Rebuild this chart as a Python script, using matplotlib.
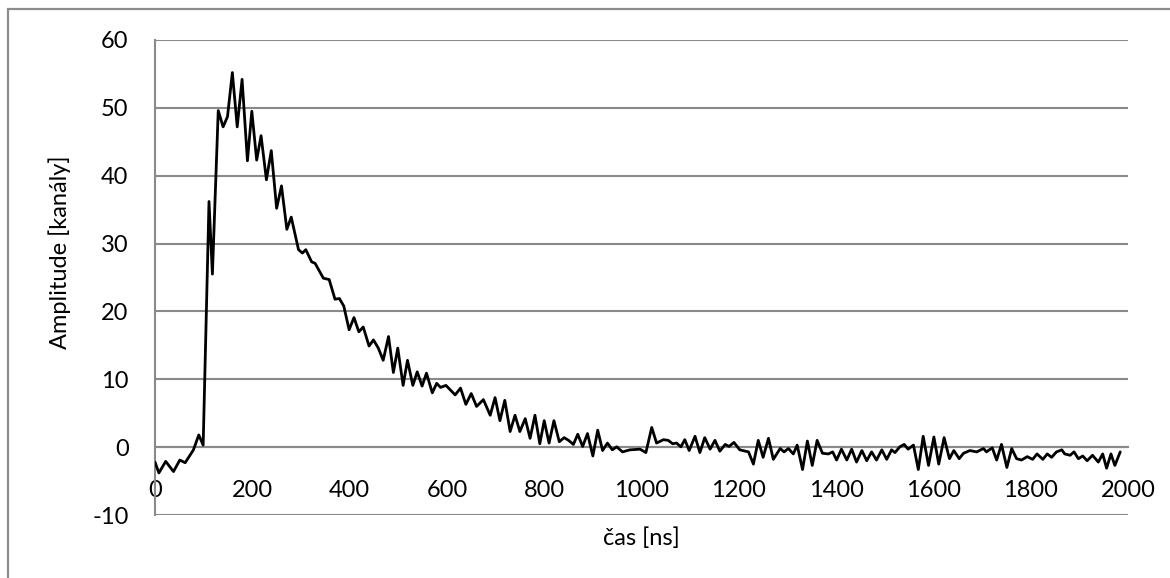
import matplotlib
matplotlib.use("Agg")
import matplotlib.pyplot as plt
from matplotlib.patches import Rectangle

# ---- data ----
time_ns = [0, 8, 22, 38, 51, 62, 79, 90, 99, 111, 118, 130, 140, 149, 159, 169, 179, 190, 199, 209,
           218, 229, 239, 250, 260, 271, 280, 295, 303, 310, 322, 329, 346, 358, 370, 379, 388, 399,
           409, 419, 428, 440, 449, 459, 469, 480, 490, 499, 510, 519, 530, 539, 549, 558, 570, 579,
           587, 598, 617, 628, 639, 650, 661, 675, 689, 699, 709, 719, 730, 740, 750, 761, 771, 781,
           791, 800, 810, 820, 831, 841, 850, 860, 869, 879, 889, 900, 910, 920, 930, 940, 949, 961,
           976, 997, 1009, 1021, 1031, 1045, 1055, 1064, 1072, 1081, 1089, 1098, 1110, 1120, 1130,
           1141, 1151, 1161, 1172, 1180, 1190, 1202, 1220, 1230, 1240, 1250, 1261, 1271, 1285, 1293,
           1302, 1312, 1320, 1331, 1341, 1351, 1361, 1372, 1384, 1393, 1401, 1411, 1422, 1432, 1442,
           1453, 1463, 1473, 1483, 1494, 1504, 1514, 1521, 1531, 1540, 1548, 1559, 1569, 1579, 1590,
           1601, 1611, 1622, 1633, 1642, 1653, 1662, 1675, 1689, 1703, 1709, 1721, 1730, 1740, 1751,
           1761, 1771, 1781, 1793, 1804, 1813, 1825, 1834, 1843, 1853, 1864, 1870, 1881, 1889, 1898,
           1907, 1916, 1927, 1939, 1948, 1956, 1965, 1973, 1984]
amplitude = [-2.2, -3.8, -2.1, -3.6, -1.9, -2.3, -0.4, 1.8, 0.3, 36.2, 25.5, 49.6, 47.2, 48.7, 55.2,
             47.2, 54.2, 42.2, 49.5, 42.3, 45.9, 39.4, 43.7, 35.2, 38.5, 32.1, 33.9, 29.1, 28.6, 29.1,
             27.3, 27.1, 24.9, 24.7, 21.8, 21.9, 20.8, 17.3, 19.1, 17.0, 17.7, 14.9, 15.8, 14.6, 12.8,
             16.3, 11.0, 14.6, 9.1, 12.8, 9.1, 11.1, 9.0, 10.9, 8.0, 9.4, 8.8, 9.1, 7.7, 8.7, 6.3, 7.9,
             6.0, 7.0, 4.7, 7.3, 3.9, 6.9, 2.3, 4.7, 2.3, 4.2, 1.3, 4.7, 0.5, 3.9, 0.6, 3.9, 0.8, 1.4,
             1.0, 0.4, 1.9, 0.1, 2.0, -1.3, 2.5, -0.5, 0.6, -0.4, 0.05, -0.7, -0.4, -0.3, -0.8, 2.9,
             0.6, 1.1, 1.0, 0.5, 0.6, 0.05, 1.1, -0.5, 1.6, -0.8, 1.4, -0.3, 1.0, -0.6, 0.4, 0.1, 0.7,
             -0.4, -0.7, -2.5, 1.0, -1.5, 1.3, -1.8, -0.2, -0.7, -0.2, -1.0, 0.3, -3.3, 0.9, -2.7, 1.0,
             -0.9, -1.0, -0.7, -1.9, -0.3, -1.9, -0.3, -2.2, -0.5, -2.0, -0.7, -1.9, -0.4, -1.8, -0.4,
             -0.8, 0.05, 0.4, -0.3, 0.3, -3.3, 1.6, -2.7, 1.5, -2.5, 1.4, -1.7, -0.5, -1.7, -0.9, -0.5,
             -0.7, -0.2, -0.7, -0.1, -1.9, 0.4, -3.0, -0.2, -1.7, -1.9, -1.4, -1.8, -1.0, -1.8, -1.0,
             -1.5, -0.7, -0.4, -1.0, -1.2, -0.7, -1.7, -1.3, -2.0, -1.2, -2.2, -1.0, -3.1, -1.0, -2.7,
             -0.7]
x_ticks = [0, 200, 400, 600, 800, 1000, 1200, 1400, 1600, 1800, 2000]
y_ticks = [-10, 0, 10, 20, 30, 40, 50, 60]
x_label = "čas [ns]"
y_label = "Amplitude [kanály]"

plt.rcParams['font.family'] = ['Lato', 'DejaVu Sans']
plt.rcParams['axes.unicode_minus'] = False
FS = 17

W, H = 1170, 578
fig = plt.figure(figsize=(W / 100, H / 100), dpi=100)
fig.patch.set_facecolor('white')

# outer chart border (extends past the cropped right/bottom edges)
fig.patches.append(Rectangle((8 / W, 0 - 0.05), 1.1, 1 - 9 / H + 0.05, transform=fig.transFigure,
                             fill=False, edgecolor='#8c8c8c', linewidth=1.6, zorder=0))

ax = fig.add_axes([155 / W, 1 - 515 / H, (1128 - 155) / W, (515 - 40) / H])
grid_c = '#8a8a8a'
ax.set_xlim(0, 2000)
ax.set_ylim(-10, 60)
ax.set_xticks(x_ticks)
ax.set_yticks(y_ticks)
ax.yaxis.grid(True, color=grid_c, linewidth=1.5)
ax.set_axisbelow(True)
for s in ['top', 'right']:
    ax.spines[s].set_visible(False)
ax.spines['left'].set_color(grid_c)
ax.spines['left'].set_linewidth(1.5)
ax.spines['bottom'].set_position(('data', 0))
ax.spines['bottom'].set_color(grid_c)
ax.spines['bottom'].set_linewidth(1.5)
ax.tick_params(axis='both', length=0, labelsize=FS, colors='black')
ax.tick_params(axis='y', pad=19)
ax.tick_params(axis='x', pad=24)

ax.plot(time_ns, amplitude, color='black', linewidth=2.0, solid_joinstyle='round',
        solid_capstyle='round', zorder=3)

fig.text(60 / W, 1 - 252 / H, y_label, rotation=90, ha='center', va='center', fontsize=FS)
fig.text(641 / W, 1 - 538 / H, x_label, ha='center', va='center', fontsize=FS)

fig.savefig('out.png', dpi=100)
